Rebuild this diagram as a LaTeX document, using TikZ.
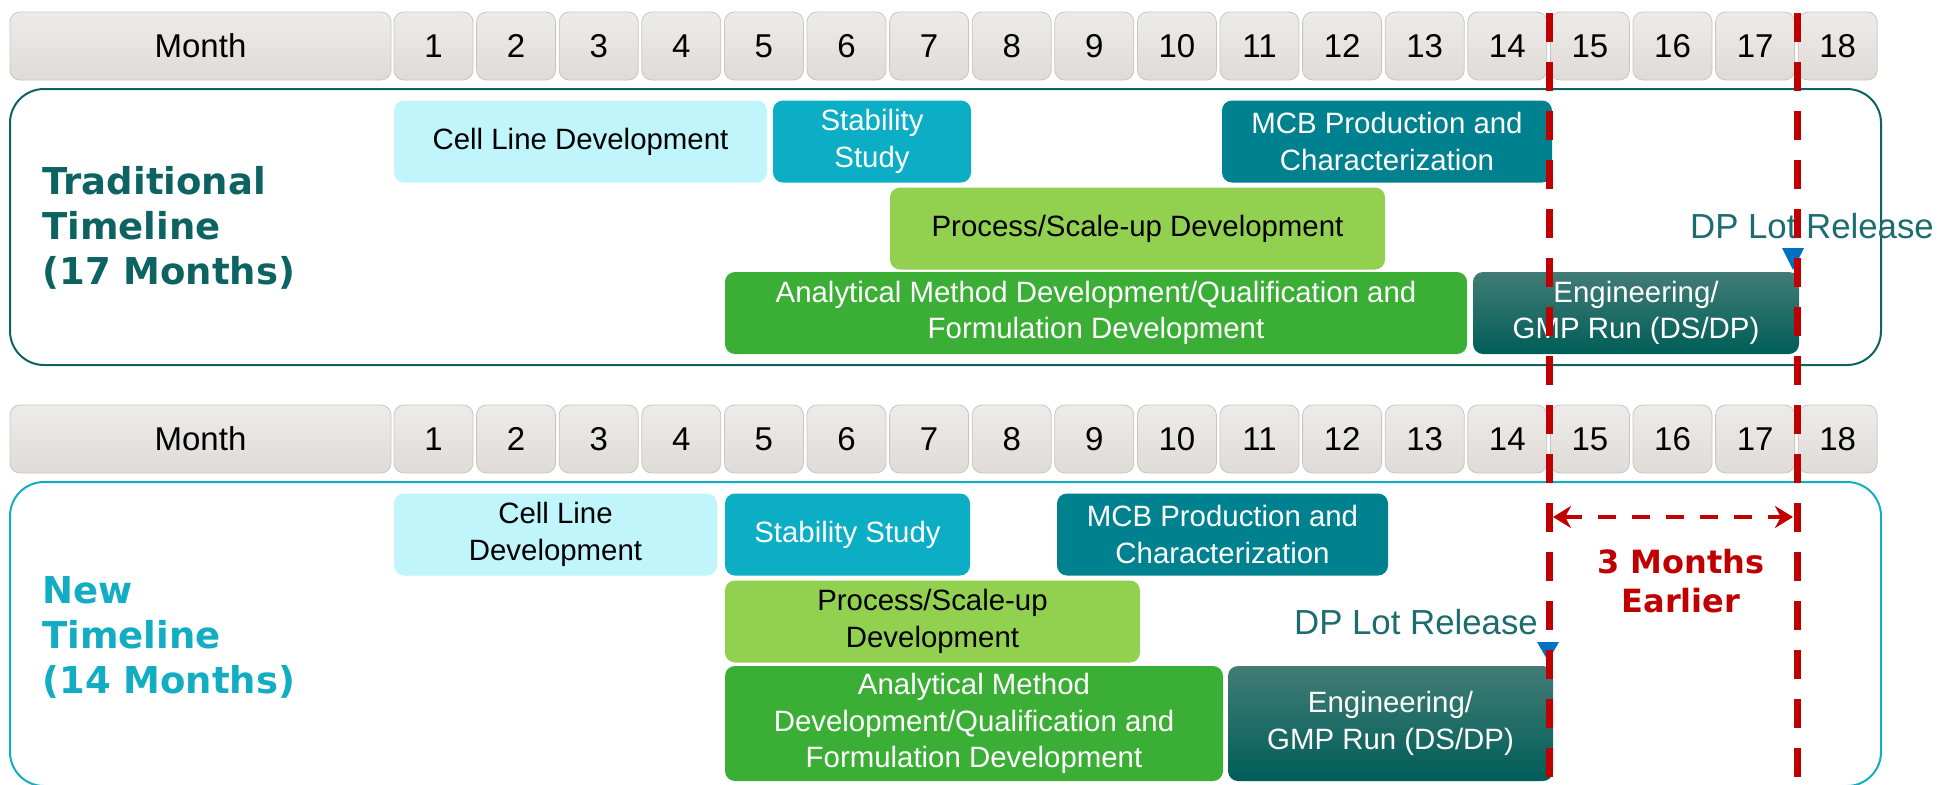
\documentclass[tikz,border=0pt]{standalone}
\usepackage{fontspec}
\setmainfont{Liberation Sans}
\newfontfamily\sidefont{DejaVu Sans}
\usetikzlibrary{arrows.meta}

\definecolor{monthgray}{HTML}{DFDBD7}
\definecolor{monthline}{HTML}{C9C5C1}
\definecolor{celllight}{HTML}{C0F5FC}
\definecolor{stabcyan}{HTML}{0BAEC5}
\definecolor{mcbteal}{HTML}{00818F}
\definecolor{proclime}{HTML}{92D050}
\definecolor{analgreen}{HTML}{3BAF35}
\definecolor{engtop}{HTML}{427C76}
\definecolor{engbot}{HTML}{005D58}
\definecolor{oldteal}{HTML}{0D6361}
\definecolor{newcyan}{HTML}{12ADC2}
\definecolor{lotteal}{HTML}{1D6C70}
\definecolor{markblue}{HTML}{0070C0}
\definecolor{gapred}{HTML}{C00000}

\tikzset{
  monthcell/.style={draw=monthline, top color=monthgray!55, bottom color=monthgray,
    rounded corners=5pt, minimum width=39.5pt, minimum height=34pt, inner sep=0pt,
    font=\fontsize{16.5pt}{18pt}\selectfont},
  monthbox/.style={monthcell, minimum width=190.5pt},
  panel/.style={rounded corners=17pt, line width=1pt, minimum width=935.5pt, inner sep=0pt},
  bar/.style={rounded corners=5pt, inner sep=0pt, align=center, text=white,
    minimum height=41pt, font=\fontsize{14.7pt}{18.3pt}\selectfont},
  sidelabel/.style={anchor=west, align=left, inner sep=0pt,
    font=\sidefont\bfseries\fontsize{18.5pt}{22.5pt}\selectfont},
  lotlabel/.style={text=lotteal, inner sep=0pt, font=\fontsize{17.4pt}{20pt}\selectfont},
  gapline/.style={gapred, line width=3.5pt, dash pattern=on 14.5pt off 10pt},
  gaparrow/.style={gapred, line width=2.2pt, dash pattern=on 9pt off 8pt,
    {Stealth[length=9pt,width=11pt]}-{Stealth[length=9pt,width=11pt]}},
}

\begin{document}
\begin{tikzpicture}[x=0.5pt, y=-0.5pt]
  \useasboundingbox (0,0) rectangle (1939,784);

  % the two timeline frames
  \node[panel, draw=oldteal, minimum height=138pt] (tbox) at (945.5,227) {};
  \node[panel, draw=newcyan, minimum height=152pt] (nbox) at (945.5,634) {};

  % month rows
  \draw
    (200.5,46) node[monthbox] (amonth) {Month}
    (433.5,46) node[monthcell] (a1) {1}
    (516.1,46) node[monthcell] (a2) {2}
    (598.7,46) node[monthcell] (a3) {3}
    (681.3,46) node[monthcell] (a4) {4}
    (763.9,46) node[monthcell] (a5) {5}
    (846.5,46) node[monthcell] (a6) {6}
    (929.1,46) node[monthcell] (a7) {7}
    (1011.7,46) node[monthcell] (a8) {8}
    (1094.3,46) node[monthcell] (a9) {9}
    (1176.9,46) node[monthcell] (a10) {10}
    (1259.5,46) node[monthcell] (a11) {11}
    (1342.1,46) node[monthcell] (a12) {12}
    (1424.7,46) node[monthcell] (a13) {13}
    (1507.3,46) node[monthcell] (a14) {14}
    (1589.9,46) node[monthcell] (a15) {15}
    (1672.5,46) node[monthcell] (a16) {16}
    (1755.1,46) node[monthcell] (a17) {17}
    (1837.7,46) node[monthcell] (a18) {18};
  \draw
    (200.5,439) node[monthbox] (bmonth) {Month}
    (433.5,439) node[monthcell] (b1) {1}
    (516.1,439) node[monthcell] (b2) {2}
    (598.7,439) node[monthcell] (b3) {3}
    (681.3,439) node[monthcell] (b4) {4}
    (763.9,439) node[monthcell] (b5) {5}
    (846.5,439) node[monthcell] (b6) {6}
    (929.1,439) node[monthcell] (b7) {7}
    (1011.7,439) node[monthcell] (b8) {8}
    (1094.3,439) node[monthcell] (b9) {9}
    (1176.9,439) node[monthcell] (b10) {10}
    (1259.5,439) node[monthcell] (b11) {11}
    (1342.1,439) node[monthcell] (b12) {12}
    (1424.7,439) node[monthcell] (b13) {13}
    (1507.3,439) node[monthcell] (b14) {14}
    (1589.9,439) node[monthcell] (b15) {15}
    (1672.5,439) node[monthcell] (b16) {16}
    (1755.1,439) node[monthcell] (b17) {17}
    (1837.7,439) node[monthcell] (b18) {18};

  % traditional timeline
  \node[sidelabel, text=oldteal] (tlabel) at (42,228) {Traditional\\Timeline\\(17 Months)};
  \node[bar, fill=celllight, text=black, minimum width=186.5pt] (tcell) at (580.5,141.5) {Cell Line Development};
  \node[bar, fill=stabcyan, minimum width=99pt] (tstab) at (872,141.5) {Stability\\Study};
  \node[bar, fill=mcbteal, minimum width=165pt] (tmcb) at (1387,141.5) {MCB Production and\\Characterization};
  \node[bar, fill=proclime, text=black, minimum width=247.5pt] (tproc) at (1137.5,228.5) {Process/Scale-up Development};
  \node[bar, fill=analgreen, minimum width=371pt] (tanal) at (1096,313) {Analytical Method Development/Qualification and\\Formulation Development};
  \node[bar, top color=engtop, bottom color=engbot, minimum width=163pt] (teng) at (1636,313) {Engineering/\\GMP Run (DS/DP)};
  \node[lotlabel] (tlot) at (1812,226) {DP Lot Release};

  % new timeline
  \node[sidelabel, text=newcyan] (nlabel) at (42,637) {New\\Timeline\\(14 Months)};
  \node[bar, fill=celllight, text=black, minimum width=161.5pt] (ncell) at (555.5,534.5) {Cell Line\\Development};
  \node[bar, fill=stabcyan, minimum width=122.5pt] (nstab) at (847.5,534.5) {Stability Study};
  \node[bar, fill=mcbteal, minimum width=165.5pt] (nmcb) at (1222.5,534.5) {MCB Production and\\Characterization};
  \node[bar, fill=proclime, text=black, minimum width=207.5pt] (nproc) at (932.5,621.5) {Process/Scale-up\\Development};
  \node[bar, fill=analgreen, minimum width=249pt, minimum height=57.5pt] (nanal) at (974,723.5) {Analytical Method\\Development/Qualification and\\Formulation Development};
  \node[bar, top color=engtop, bottom color=engbot, minimum width=162.5pt, minimum height=57.5pt] (neng) at (1390.5,723.5) {Engineering/\\GMP Run (DS/DP)};
  \node[lotlabel] (nlot) at (1416,622) {DP Lot Release};

  % release markers
  \coordinate (tmark) at (1793,248);
  \coordinate (nmark) at (1548,642);
  \fill[markblue] (tmark) ++(-11,0) -- ++(22,0) -- ++(-11,22) -- cycle;
  \fill[markblue] (nmark) ++(-11,0) -- ++(22,0) -- ++(-11,19) -- cycle;

  % three months gap
  \coordinate (cut14) at (1549,13);
  \coordinate (cut14end) at (1549,800);
  \coordinate (cut17) at (1797,13);
  \coordinate (cut17end) at (1797,800);
  \draw[gapline] (cut14) -- (cut14end);
  \draw[gapline] (cut17) -- (cut17end);
  \coordinate (gapl) at (1553,517);
  \coordinate (gapr) at (1793,517);
  \draw[gaparrow] (gapl) -- (gapr);
  \node[align=center, text=gapred, font=\sidefont\bfseries\fontsize{16pt}{19.5pt}\selectfont] (gaptext) at (1681,581) {3 Months\\Earlier};
\end{tikzpicture}
\end{document}
